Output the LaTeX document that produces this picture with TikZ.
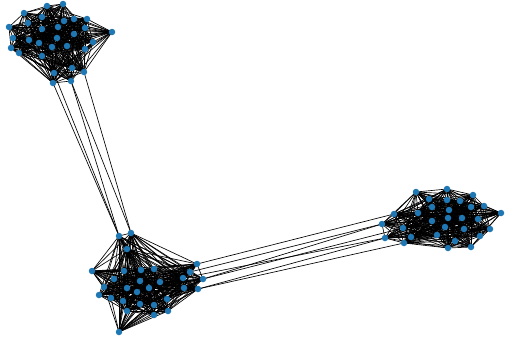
\documentclass[tikz,border=0pt]{standalone}
\usetikzlibrary{calc}
\definecolor{nxblue}{HTML}{1F78B4}
\tikzset{
  edge/.style={draw=black, line width=0.65pt},
  vert/.style={circle, fill=nxblue, draw=none, inner sep=0pt, minimum size=6.5pt}
}
\begin{document}
\begin{tikzpicture}[x=1pt,y=-1pt]
\useasboundingbox (0,0) rectangle (506,341);
% cluster A (top left)
\foreach \n/\x/\y in {1/47/6,2/63/4,3/24/13,4/42/17,5/64/21,6/74/19,7/87/19,8/9/27,9/28/23,10/58/27,
11/42/29,12/85/28,13/112/32,14/13/38,15/74/34,16/29/40,17/57/38,18/39/43,19/93/42,20/11/48,
21/67/46,22/52/47,23/19/53,24/85/49,25/42/56,26/54/73,27/72/68,28/84/72,29/53/83,30/71/81}
  \coordinate (a\n) at (\x,\y);
% cluster B (bottom left)
\foreach \n/\x/\y in {1/119/236,2/131/233,3/127/249,4/92/271,5/124/271,6/141/270,7/154/269,8/197/264,9/190/272,10/114/279,
11/140/281,12/160/282,13/183/278,14/203/279,15/104/287,16/127/288,17/149/288,18/184/288,19/198/289,20/137/292,
21/99/295,22/111/298,23/123/301,24/167/299,25/140/304,26/154/305,27/127/311,28/168/311,29/154/315,30/119/332}
  \coordinate (b\n) at (\x,\y);
% cluster C (right)
\foreach \n/\x/\y in {1/416/192,2/447/189,3/429/199,4/447/200,5/460/201,6/473/195,7/484/206,8/501/213,9/432/207,10/449/210,
11/471/207,12/394/214,13/418/213,14/382/224,15/432/221,16/448/218,17/462/218,18/478/219,19/403/228,20/445/227,
21/464/229,22/490/229,23/385/238,24/411/237,25/437/235,26/480/236,27/404/243,28/455/241,29/448/248,30/471/247}
  \coordinate (c\n) at (\x,\y);
% intra-cluster edges
\pgfmathsetseed{7}
\foreach \c in {a,b,c}{
  \foreach \i in {1,...,30}{
    \foreach \j in {\i,...,30}{
      \pgfmathsetmacro\r{rnd}
      \ifnum\j>\i
        \ifdim\r pt<0.8pt
          \draw[edge] (\c\i) -- (\c\j);
        \fi
      \fi
    }
  }
}
% inter-cluster edges
\draw[edge] (a29) -- (b1);
\draw[edge] (a26) -- (b1);
\draw[edge] (a30) -- (b1);
\draw[edge] (a30) -- (b2);
\draw[edge] (a28) -- (b2);
\draw[edge] (b8) -- (c12);
\draw[edge] (b9) -- (c14);
\draw[edge] (b14) -- (c14);
\draw[edge] (b13) -- (c23);
\draw[edge] (b19) -- (c23);
\draw[edge] (b14) -- (c19);
\draw[edge] (b19) -- (c27);
% vertices
\foreach \c in {a,b,c}{
  \foreach \i in {1,...,30}{
    \node[vert] (v\c\i) at (\c\i) {};
  }
}
\end{tikzpicture}
\end{document}
